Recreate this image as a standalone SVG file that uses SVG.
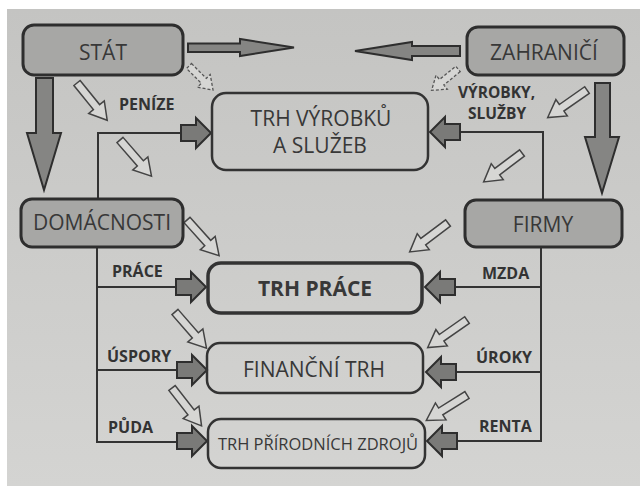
<svg xmlns="http://www.w3.org/2000/svg" width="640" height="486" viewBox="0 0 640 486">
<defs>
<linearGradient id="bg" x1="0" y1="0" x2="0" y2="1">
<stop offset="0" stop-color="#c4c4c2"/>
<stop offset="1" stop-color="#d4d4d2"/>
</linearGradient>
<path id="hollow" d="M0,-4 L31,-4 L31,-10 L48,0 L31,10 L31,4 L0,4 Z"/>
<path id="hollowS" d="M0,-3.5 L21,-3.5 L21,-9 L34,0 L21,9 L21,3.5 L0,3.5 Z"/>
<path id="block" d="M-30,-8 L-15,-8 L-15,-15 L0,0 L-15,15 L-15,8 L-30,8 Z"/>
</defs>
<style>
.actor{fill:#a7a7a5;stroke:#2e2e2e;stroke-width:3}
.market{fill:none;stroke:#333;stroke-width:2.5}
.marketB{fill:none;stroke:#333;stroke-width:3.5}
.big{font-family:"Open Sans","DejaVu Sans",sans-serif;font-size:21px;fill:#383838;text-anchor:middle}
.bold{font-weight:bold}
.lab{font-family:"Open Sans","DejaVu Sans",sans-serif;font-size:16px;font-weight:bold;fill:#333}
.line{fill:none;stroke:#333;stroke-width:2}
.hol{fill:#d6d6d4;stroke:#444;stroke-width:1.5}
.dash{fill:#d6d6d4;stroke:#555;stroke-width:1.3;stroke-dasharray:3 2}
.blk{fill:#7a7a78;stroke:#2e2e2e;stroke-width:2}
.bigarr{fill:#858583;stroke:#2e2e2e;stroke-width:2}
</style>
<rect x="0" y="0" width="640" height="486" fill="#ffffff"/>
<rect x="7" y="9" width="633" height="477" fill="url(#bg)"/>

<g id="connectors">
<path class="line" d="M98,199 V133 H182"/>
<path class="line" d="M97,247 V442 H178 M97,287 H177 M97,370 H178"/>
<path class="line" d="M543,200 V132 H459"/>
<path class="line" d="M541,247 V441 H457 M541,287 H455 M541,372 H456"/>
<use href="#block" class="blk" transform="translate(211,133)"/>
<use href="#block" class="blk" transform="translate(206,287)"/>
<use href="#block" class="blk" transform="translate(207,370)"/>
<use href="#block" class="blk" transform="translate(207,441)"/>
<use href="#block" class="blk" transform="translate(430,132) rotate(180)"/>
<use href="#block" class="blk" transform="translate(425,287) rotate(180)"/>
<use href="#block" class="blk" transform="translate(426,372) rotate(180)"/>
<use href="#block" class="blk" transform="translate(427,441) rotate(180)"/>
<path class="bigarr" d="M188,43.5 L240,43.5 L240,39 L294,47.5 L240,56 L240,52 L188,52 Z"/>
<path class="bigarr" d="M460,46 L412,46 L412,42 L355,51 L412,60 L412,56 L460,56 Z"/>
<path class="bigarr" d="M36,78 L53,78 L53,133 L61,133 L44,190 L27,133 L36,133 Z"/>
<path class="bigarr" d="M595,83 L610,83 L610,137 L619,137 L602,193 L585,137 L595,137 Z"/>
<use href="#hollowS" class="dash" transform="translate(189,66) rotate(45)"/>
<use href="#hollowS" class="dash" transform="translate(458,69) rotate(141)"/>
<use href="#hollow" class="hol" transform="translate(77,83) rotate(51)"/>
<use href="#hollow" class="hol" transform="translate(120,140) rotate(49)"/>
<use href="#hollow" class="hol" transform="translate(187,220) rotate(48)"/>
<use href="#hollow" class="hol" transform="translate(175,312) rotate(49)"/>
<use href="#hollow" class="hol" transform="translate(172,388) rotate(52)"/>
<use href="#hollow" class="hol" transform="translate(587,90) rotate(145)"/>
<use href="#hollow" class="hol" transform="translate(522,153) rotate(143)"/>
<use href="#hollow" class="hol" transform="translate(448,223) rotate(143)"/>
<use href="#hollow" class="hol" transform="translate(467,320) rotate(145)"/>
<use href="#hollow" class="hol" transform="translate(467,395) rotate(148)"/>
<text class="lab" x="119" y="110">PENÍZE</text>
<text class="lab" x="458" y="98" style="font-size:15.5px">VÝROBKY,</text>
<text class="lab" x="468" y="119" style="font-size:15.5px">SLUŽBY</text>
<text class="lab" x="112" y="277">PRÁCE</text>
<text class="lab" x="482" y="279">MZDA</text>
<text class="lab" x="107" y="362">ÚSPORY</text>
<text class="lab" x="476" y="363">ÚROKY</text>
<text class="lab" x="108" y="433">PŮDA</text>
<text class="lab" x="479" y="432">RENTA</text>
</g>

<g id="stat">
<rect class="actor" x="23" y="25" width="160" height="50" rx="11"/>
<text class="big" x="103" y="60">STÁT</text>
</g>
<g id="zahranici">
<rect class="actor" x="467" y="27" width="157" height="48" rx="11"/>
<text class="big" x="544" y="60">ZAHRANIČÍ</text>
</g>
<g id="domacnosti">
<rect class="actor" x="21" y="199" width="162" height="48" rx="11"/>
<text class="big" x="102" y="230">DOMÁCNOSTI</text>
</g>
<g id="firmy">
<rect class="actor" x="465" y="200" width="157" height="47" rx="11"/>
<text class="big" x="543" y="232">FIRMY</text>
</g>
<g id="trh-vyrobku">
<rect class="market" x="212" y="93" width="216" height="77" rx="14"/>
<text class="big" x="321" y="126">TRH VÝROBKŮ</text>
<text class="big" x="320" y="153">A SLUŽEB</text>
</g>
<g id="trh-prace">
<rect class="marketB" x="208" y="263" width="214" height="50" rx="13"/>
<text class="big bold" x="315" y="296">TRH PRÁCE</text>
</g>
<g id="financni-trh">
<rect class="market" x="207" y="343" width="216" height="50" rx="13"/>
<text class="big" x="314" y="377">FINANČNÍ TRH</text>
</g>
<g id="trh-prirodnich-zdroju">
<rect class="market" x="208" y="419" width="217" height="49" rx="13"/>
<text class="big" x="318" y="450" style="font-size:16.5px">TRH PŘÍRODNÍCH ZDROJŮ</text>
</g>
</svg>
